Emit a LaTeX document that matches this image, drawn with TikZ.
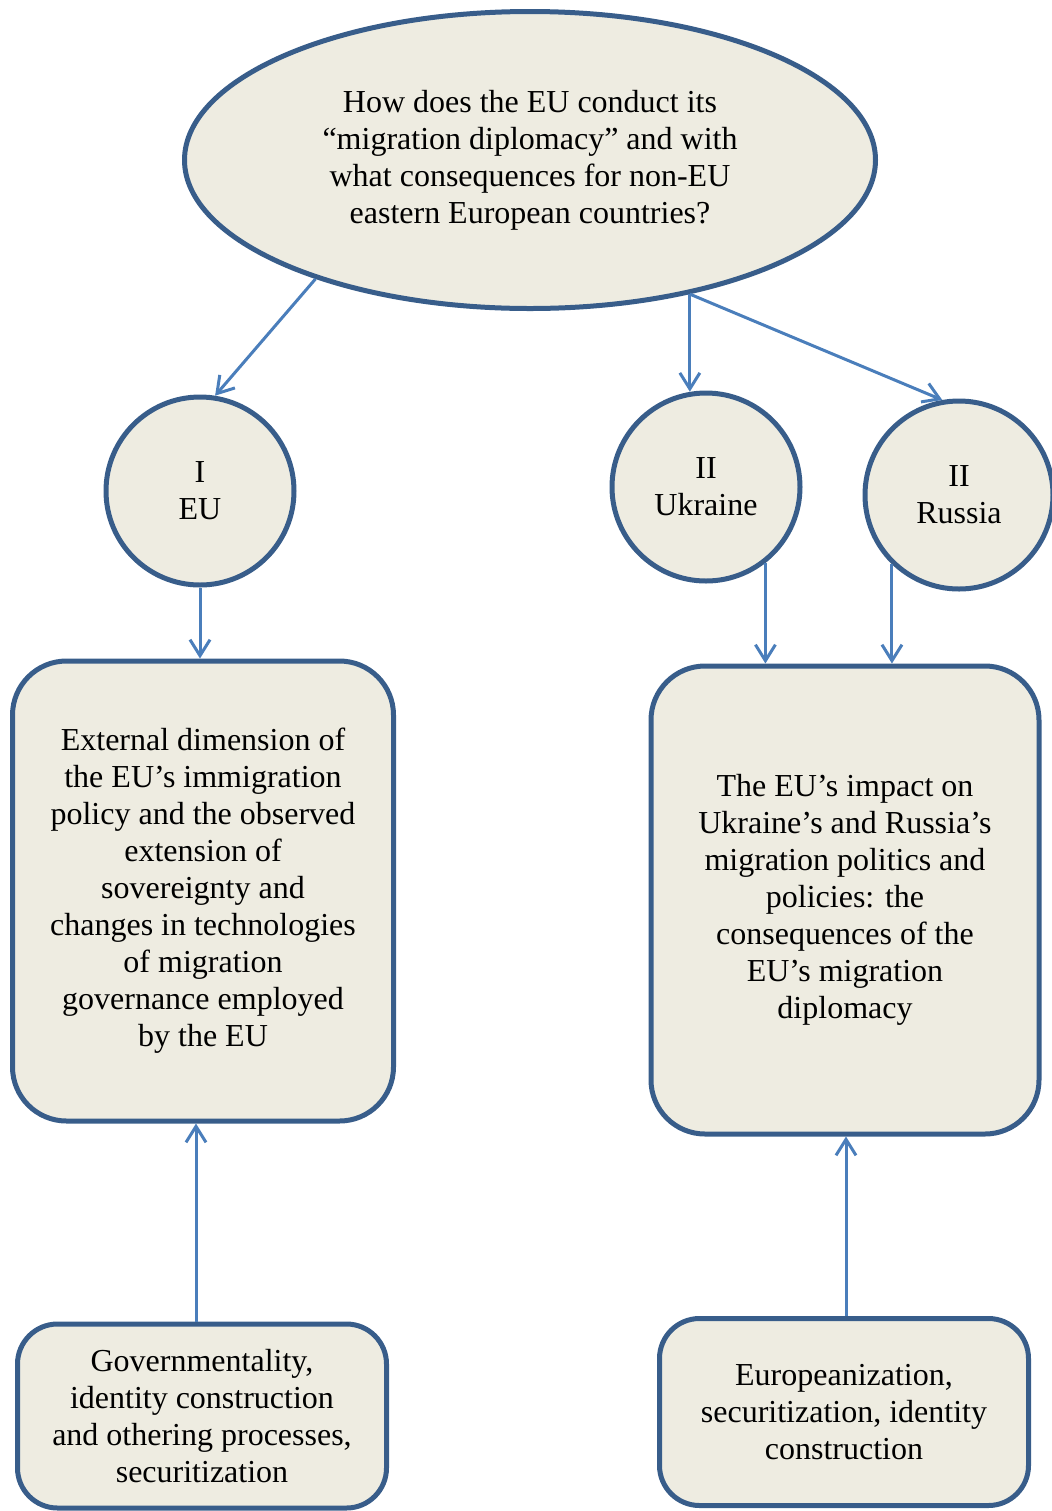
\documentclass[tikz,border=0pt]{standalone}
\usepackage{fontspec}
\setmainfont{Liberation Serif}
\usetikzlibrary{shapes.geometric,arrows.meta}
\definecolor{fillc}{HTML}{EEECE1}
\definecolor{borderc}{HTML}{385D8A}
\definecolor{arrowc}{HTML}{4A7EBB}
\begin{document}
\begin{tikzpicture}[x=0.5pt,y=-0.5pt,
  shapebase/.style={draw=borderc,fill=fillc,line width=2.5pt,inner sep=0pt,align=center,
    font=\fontsize{16}{18.5}\selectfont},
  bigq/.style={shapebase,ellipse,minimum width=345.5pt,minimum height=148.5pt},
  circ/.style={shapebase,circle,minimum size=94pt},
  bigbox/.style={shapebase,rectangle,rounded corners=27pt},
  smallbox/.style={shapebase,rectangle,rounded corners=20pt},
  conn/.style={draw=arrowc,line width=1.5pt,-{Straight Barb[length=8pt,width=10pt,line width=1.5pt]}}
]
\useasboundingbox (0,0) rectangle (1051,1511);
\node[bigq] (q) at (530,160) {How does the EU conduct its\\``migration diplomacy'' and with\\what consequences for non-EU\\eastern European countries?};
\node[circ] (eu) at (200,491) {I\\EU};
\node[circ] (uk) at (706,487) {II\\Ukraine};
\node[circ] (ru) at (959,495) {II\\Russia};
\node[bigbox,minimum width=190.5pt,minimum height=230pt] (boxL) at (203,891)
  {External dimension of\\the EU's immigration\\policy and the observed\\extension of\\sovereignty and\\changes in technologies\\of migration\\governance employed\\by the EU};
\node[bigbox,minimum width=194pt,minimum height=234pt] (boxR) at (845,900)
  {The EU's impact on\\Ukraine's and Russia's\\migration politics and\\policies: the\\consequences of the\\EU's migration\\diplomacy};
\node[smallbox,minimum width=184.5pt,minimum height=92pt] (botL) at (202,1416)
  {Governmentality,\\identity construction\\and othering processes,\\securitization};
\node[smallbox,minimum width=184.5pt,minimum height=93.5pt] (botR) at (844,1412)
  {Europeanization,\\securitization, identity\\construction};
\draw[conn] (q.209.7) -- (eu.81);
\draw[conn] (q.-40.2) -- (q.-40.2 |- uk.99);
\draw[conn] (q.-40.2) -- (ru.100.5);
\draw[conn] (eu.south) -- (eu.south |- boxL.north);
\draw[conn] (uk.-52) -- (uk.-52 |- boxR.north);
\draw[conn] (ru.-134.6) -- (ru.-134.6 |- boxR.north);
\draw[conn] ([xshift=-3pt]botL.north) -- ([xshift=-3pt]botL.north |- boxL.south);
\draw[conn] ([xshift=1pt]botR.north) -- ([xshift=1pt]botR.north |- boxR.south);
\end{tikzpicture}
\end{document}
